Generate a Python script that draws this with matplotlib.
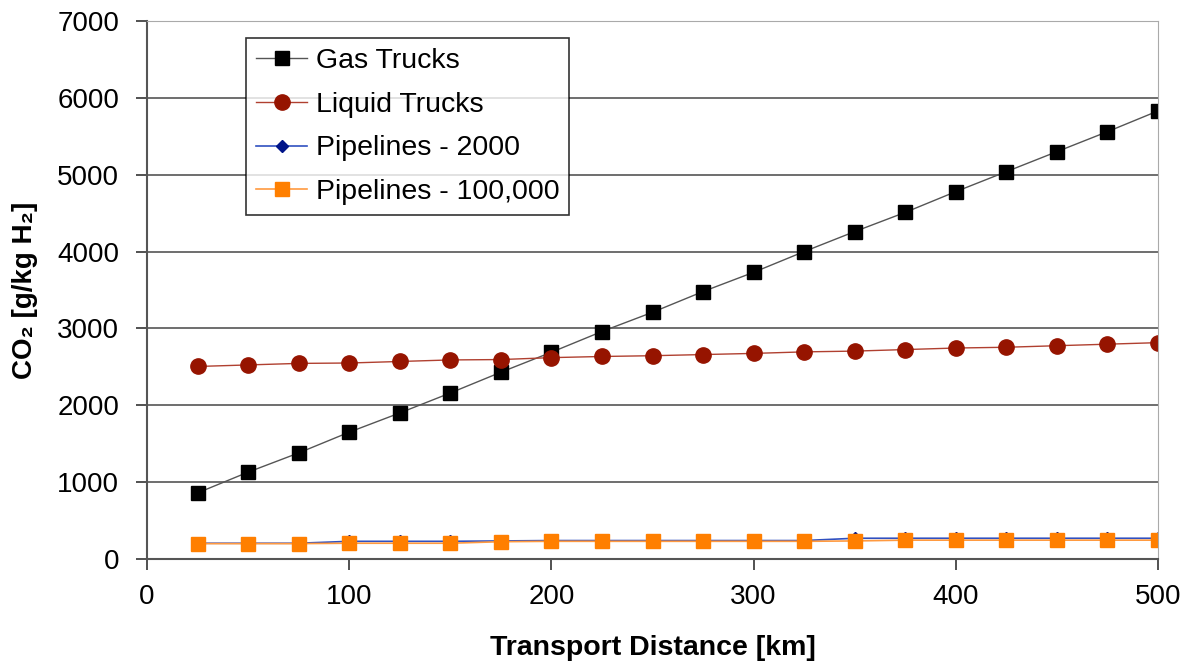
import numpy as np
import matplotlib
matplotlib.use('Agg')
import matplotlib.pyplot as plt

plt.rcParams['font.family'] = ['Liberation Sans', 'DejaVu Sans']

# 运输距离 (km)
distance = [25, 50, 75, 100, 125, 150, 175, 200, 225, 250,
            275, 300, 325, 350, 375, 400, 425, 450, 475, 500]

# 各运输方式的 CO2 排放 (g/kg H2)
gas_trucks = [860, 1130, 1380, 1650, 1900, 2160, 2430, 2690, 2960, 3210,
              3480, 3730, 4000, 4260, 4510, 4780, 5040, 5300, 5560, 5830]
liquid_trucks = [2505, 2525, 2545, 2550, 2570, 2590, 2595, 2620, 2635, 2645,
                 2660, 2675, 2695, 2705, 2725, 2745, 2755, 2775, 2795, 2815]
pipelines_2000 = [205, 205, 205, 230, 230, 230, 235, 240, 240, 240,
                  240, 240, 240, 270, 270, 270, 270, 270, 270, 270]
pipelines_100000 = [200, 200, 200, 205, 205, 205, 225, 230, 230, 230,
                    230, 230, 230, 235, 245, 245, 245, 245, 245, 245]

fig = plt.figure(figsize=(11.88, 6.71), dpi=100)
ax = fig.add_axes([147 / 1188, 112 / 671, 1011 / 1188, 538 / 671])

ax.plot(distance, gas_trucks, color='#555555', lw=1, marker='s', ms=10,
        mfc='black', mec='black', label='Gas Trucks')
ax.plot(distance, liquid_trucks, color='#b04030', lw=1, marker='o', ms=11,
        mfc='#961400', mec='#961400', label='Liquid Trucks')
ax.plot(distance, pipelines_2000, color='#3050c0', lw=1.2, marker='D', ms=6,
        mfc='#001489', mec='#001489', label='Pipelines - 2000')
ax.plot(distance, pipelines_100000, color='#ff9a40', lw=1.2, marker='s', ms=10,
        mfc='#ff7f00', mec='#ff7f00', label='Pipelines - 100,000')

ax.set_xlim(0, 500)
ax.set_ylim(0, 7000)
ax.set_xticks(range(0, 501, 100))
ax.set_yticks(range(0, 7001, 1000))
ax.yaxis.grid(True, color='#555555', lw=1.2)
ax.set_axisbelow(True)

ax.spines['left'].set_color('#555555')
ax.spines['left'].set_linewidth(1.5)
ax.spines['bottom'].set_color('#555555')
ax.spines['bottom'].set_linewidth(1.5)
ax.spines['top'].set_color('#aaaaaa')
ax.spines['right'].set_color('#aaaaaa')
ax.tick_params(axis='both', labelsize=20, length=8, width=1.2, color='#333333')
ax.tick_params(axis='x', pad=10)
ax.tick_params(axis='y', pad=12)

ax.set_xlabel('Transport Distance [km]', fontsize=20.5, fontweight='bold', labelpad=18)
ax.set_ylabel('CO₂ [g/kg H₂]', fontsize=20, fontweight='bold', labelpad=14)

leg = ax.legend(loc='upper left', bbox_to_anchor=(0.098, 0.968), borderaxespad=0,
                fontsize=20.5, frameon=True, fancybox=False, edgecolor='black',
                borderpad=0.35, handlelength=1.8, handletextpad=0.3,
                labelspacing=0.62)
leg.get_frame().set_linewidth(1.2)

fig.savefig('out.png', dpi=100)
